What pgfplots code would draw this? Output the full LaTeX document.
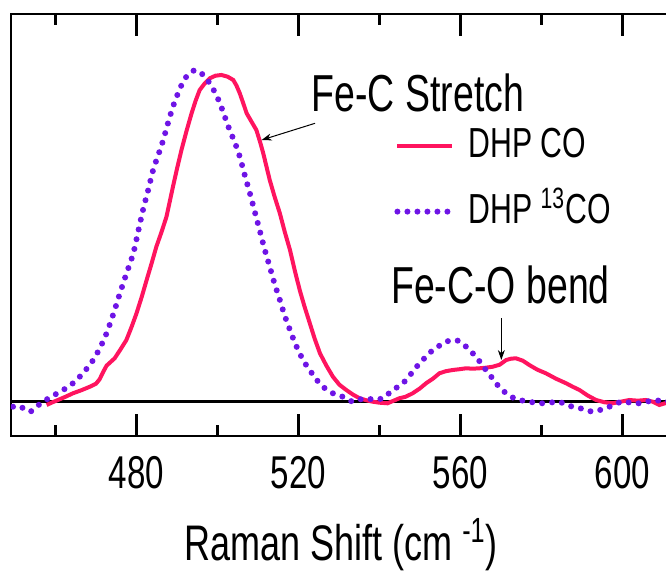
\documentclass[border=0pt]{standalone}
\usepackage{fontspec}
\setmainfont{Liberation Sans}[FakeStretch=0.72]
\usepackage{pgfplots}
\pgfplotsset{compat=1.18}
\usetikzlibrary{arrows.meta}
\definecolor{cored}{RGB}{255,20,95}
\definecolor{coblue}{RGB}{110,20,230}
\pgfplotstableread{
x y
457.8 -3.3
459 -1
460.6 1.7
462.5 5
464.3 8.4
466.4 11.5
468.5 15
470 18
470.9 22.5
471.8 30
472.6 36
474.6 43.4
476 52
477.5 61.7
478.8 75
480 88.4
481.3 105
482.5 121.7
483.7 138
484.9 155
486.2 170
487.4 185
488.2 200
489 215
490 233
491.1 251.7
492.3 270
493.6 288.4
494.6 301
495.6 311.7
496.8 318
498.1 323.4
499.5 326
501 326.7
502.5 325
503.9 321.7
504.7 316
505.5 308.4
506.4 298
507.2 288.4
508.4 280
509.6 271.7
510.5 260
511.3 248.4
512.1 235
512.9 221.7
514.1 205
515.4 188.4
516.6 170
517.9 151.7
519.1 131
520.3 111.7
521.5 95
522.8 78.4
524 63
525.3 48.4
526.9 36
528.5 25
530.1 17
531.8 11.7
533.5 7
535.1 3.4
536.7 1.5
538.3 0
540 -1
542 -1.6
543.5 1
544.9 3.4
546.5 5
548.2 8.4
549.9 13
551.5 18.4
553.2 23
554.8 28.4
556.4 30.5
558.1 31.7
559.8 32.5
561.4 33.4
563 33
564.7 33.4
566.3 34
568 35
569.7 37
571.3 41.7
572.5 43
573.7 43.4
575.4 41
577 36.7
579 32
581.1 28.4
583.6 23
586.1 18.4
587.7 15
589.4 11.7
591.5 6
593.5 1.7
595.5 -0.5
597.6 -1.6
599.6 0
601.7 1.7
603.8 1
605.8 1.7
607.5 0
609.1 -3.3
611 -1
612 -1
}\redtab
\pgfplotstableread{
x y
449.5 -5
450.5 -7
452 -6
453.7 -10
455.3 -5
456.9 0
459 5
461.1 10
463.2 15
465.2 21.7
467.3 31
469.3 41.7
471 54
472.6 68.4
474.3 88
475.9 108.4
477.5 128
479.2 148.4
480.4 170
481.6 191.7
482.9 212
484.1 231.7
485.4 247
486.6 261.7
487.8 279
489 295
490.2 308
491.5 320
492.5 326
493.6 330
494.6 331.5
495.6 330
496.8 325
498.1 318.4
499.4 309
500.6 298.4
501.8 285
503 271.7
504.3 259
505.5 245
506.7 227
508 208.4
509.2 190
510.4 171.7
511.6 153
512.9 135
514.1 118
515.4 101.7
516.6 86
517.9 71.7
519.1 59
520.3 48.4
521.5 39
522.8 31.7
524 24
525.3 18.4
526.9 12
528.5 8.4
530.9 5
533.4 0
535 2
536.7 3.4
538.7 2
540.8 3.4
543.3 11.7
545 16
546.6 21.7
548.2 30
549.9 38.4
551.5 45
553.2 51.7
554.8 56
556.4 60
558.9 61.7
560.1 59
561.4 55
562.6 50
563.9 45
565.1 38
566.3 31.7
567.6 25
568.8 18.4
570 13
571.3 8.4
573 4
574.6 1.7
577 0
579.5 -1.6
582 -1
584.4 0
586 -3
587.7 -5
590 -7
592.7 -10
594.7 -8
596.8 -5
598.4 -2
600 0
602 -1
604.1 -1.6
606 0
608.2 1.7
610 0
612 1
}\bluetab
\begin{document}
\begin{tikzpicture}
\begin{axis}[name=ax, scale only axis, width=330pt, height=211pt,
  xmin=449, xmax=612, ymin=-34.3, ymax=387.7,
  xtick={480,520,560,600}, minor xtick={460,500,540,580}, ytick=\empty,
  xtick pos=both,
  tick align=inside, major tick length=11pt, minor tick length=5.5pt,
  every tick/.style={black, solid, line cap=butt, line width=1.1pt},
  axis line style={solid, line width=1.2pt},
  xticklabel style={font=\fontsize{23}{27}\selectfont, yshift=-6.5pt},
  /pgf/number format/assume math mode=true,
  /pgf/number format/1000 sep={},
  xlabel={Raman Shift (cm \textsuperscript{-1})},
  xlabel style={font=\fontsize{25}{30}\selectfont, yshift=-8pt},
  legend style={draw=none, fill=none, at={(axis cs:543.6,278.5)}, anchor=north west,
    inner sep=0pt, row sep=11pt, font=\fontsize{21}{25}\selectfont,
    nodes={inner xsep=0pt, inner ysep=2pt, text height=15pt, text depth=3pt},
    /tikz/every odd column/.append style={column sep=6.5pt}},
  legend cell align=left,
  legend image code/.code={\draw[#1] (0pt,0pt) -- (27.5pt,0pt);},
]
\addplot[black, line width=1.2pt, forget plot] coordinates {(449,0) (612,0)};
\addplot[cored, line width=2pt] table[x=x,y=y] {\redtab};
\addlegendentry{DHP CO}
\addplot[coblue, line width=3pt, line cap=round, dash pattern=on 0pt off 5pt, smooth] table[x=x,y=y] {\bluetab};
\addlegendentry{DHP \textsuperscript{13}CO}
\pgfplotsinvokeforeach{480,520,560,600}{
  \draw[black, solid, line width=1.1pt] (axis cs:#1,-34.3) -- ++(0pt,11pt);
  \draw[black, solid, line width=1.1pt] (axis cs:#1,387.7) -- ++(0pt,-11pt);
}
\pgfplotsinvokeforeach{460,500,540,580}{
  \draw[black, solid, line width=1.1pt] (axis cs:#1,-34.3) -- ++(0pt,5.5pt);
  \draw[black, solid, line width=1.1pt] (axis cs:#1,387.7) -- ++(0pt,-5.5pt);
}
\node[font=\fontsize{26}{31}\selectfont, anchor=base] at (axis cs:549.5,290) {Fe-C Stretch};
\draw[line width=0.5pt, -{Stealth[length=5pt,width=3.5pt]}] (axis cs:524.1,278.4) -- (axis cs:510.9,261.7);
\node[font=\fontsize{26}{31}\selectfont, anchor=base] at (axis cs:569.9,98.4) {Fe-C-O bend};
\draw[line width=0.5pt, -{Stealth[length=5pt,width=3.5pt]}] (axis cs:570.1,83.4) -- (axis cs:570.1,41.7);
\end{axis}
\pgfresetboundingbox
\useasboundingbox ([xshift=-5.5pt,yshift=-76pt]ax.south west) rectangle ([xshift=327.5pt,yshift=7pt]ax.north west);
\end{tikzpicture}
\end{document}
